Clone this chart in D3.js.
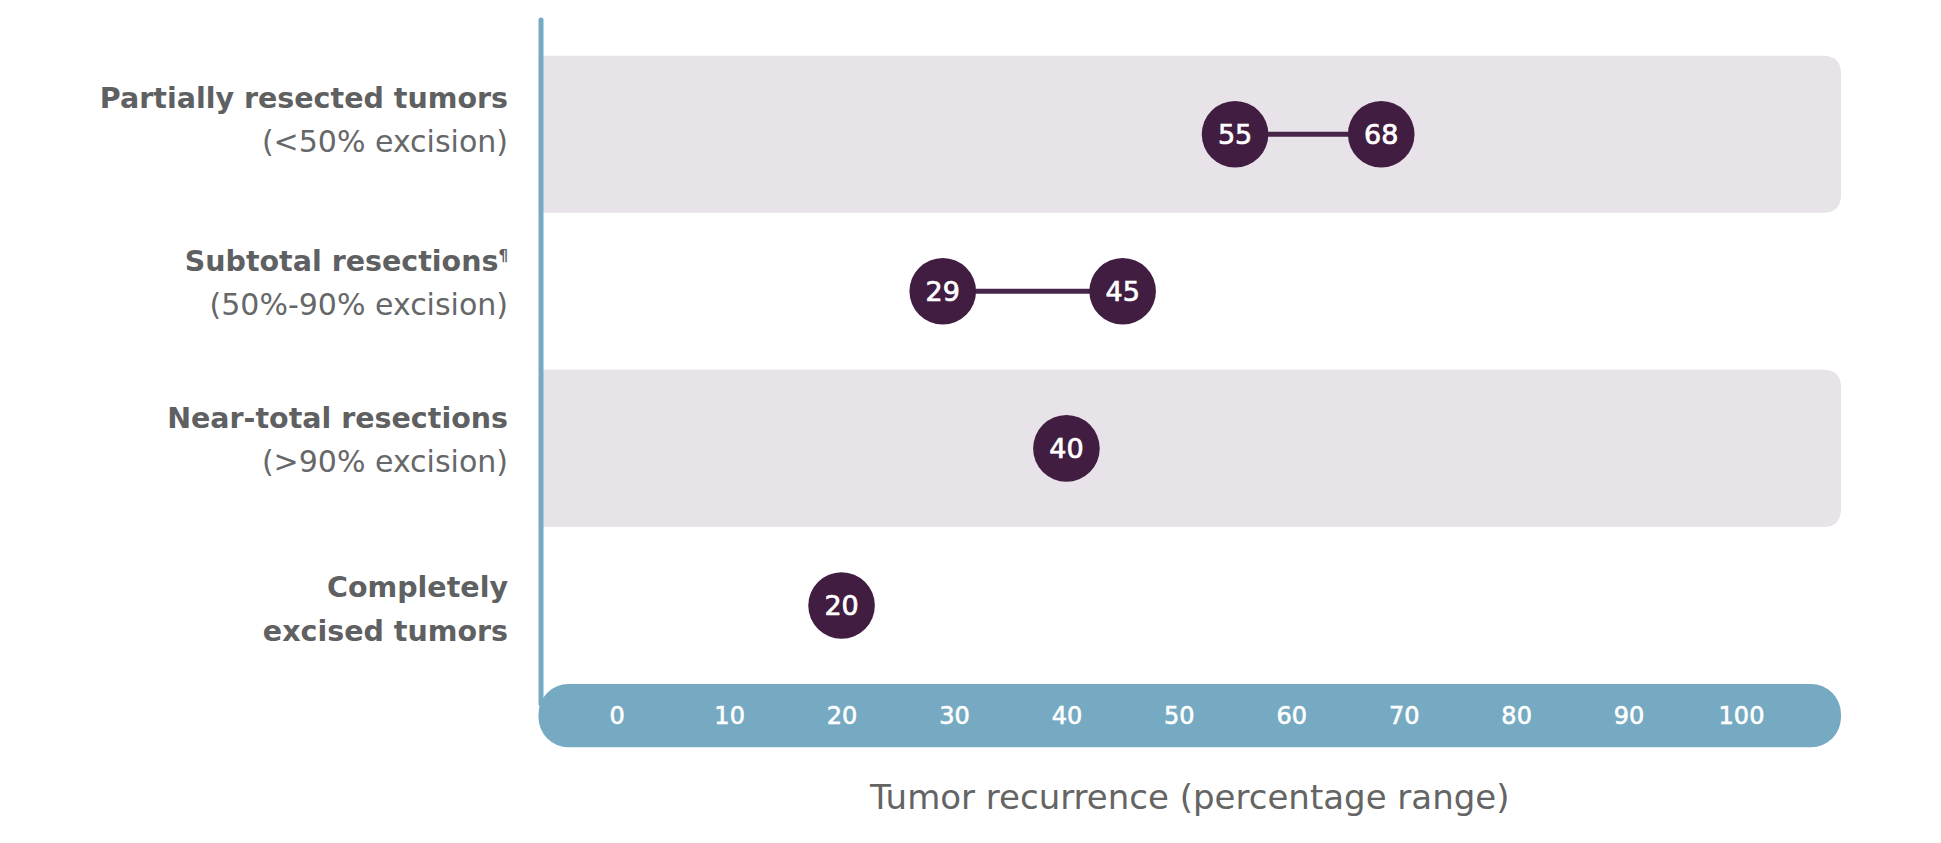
<!DOCTYPE html>
<html>
<head>
<meta charset="utf-8">
<script src="https://cdn.jsdelivr.net/npm/d3@7"></script>
<style>
  html, body { margin: 0; padding: 0; background: #ffffff; }
  svg { display: block; }
  text { font-family: "DejaVu Sans", "Liberation Sans", sans-serif; }
</style>
</head>
<body>
<svg id="chart" width="1941" height="843"></svg>
<script>
// ---- data ----
const categories = [
  "Partially resected tumors",
  "Subtotal resections",
  "Near-total resections",
  "Completely excised tumors"
];
const labelMain = [
  ["Partially resected tumors"],
  ["Subtotal resections"],
  ["Near-total resections"],
  ["Completely", "excised tumors"]
];
const labelSup = ["", "\u00B6", "", ""];
const labelSub = ["(<50% excision)", "(50%-90% excision)", "(>90% excision)", ""];
const lowValues = [55, 29, 40, 20];
const highValues = [68, 45, 40, 20];
const tickValues = [0, 10, 20, 30, 40, 50, 60, 70, 80, 90, 100];
const axisTitle = "Tumor recurrence (percentage range)";

// ---- layout ----
const plotLeft = 541, plotRight = 1841;
const bandTop = 55.7, bandBottom = 684;
const axisBarTop = 684, axisBarH = 63.3;
const colors = {
  band: "#e7e3e9",
  axis: "#76aac2",
  dot: "#411d42",
  line: "#47244a",
  labelBold: "#5f6062",
  labelReg: "#666769",
  title: "#646464"
};

const svg = d3.select("#chart");

const x = d3.scaleLinear().domain([0, 100]).range([616.7, 1741]);
const y = d3.scaleBand().domain(categories).range([bandTop, bandBottom]).padding(0);

const rows = categories.map((c, i) => ({
  cat: c, i, lo: lowValues[i], hi: highValues[i],
  main: labelMain[i], sup: labelSup[i], sub: labelSub[i]
}));

// alternating bands with rounded right corners
const rr = 18;
function bandPath(x0, x1, y0, h, r) {
  return `M${x0},${y0} H${x1 - r} Q${x1},${y0} ${x1},${y0 + r} V${y0 + h - r} Q${x1},${y0 + h} ${x1 - r},${y0 + h} H${x0} Z`;
}
svg.append("g").selectAll("path")
  .data(rows.filter(d => d.i % 2 === 0))
  .join("path")
  .attr("d", d => bandPath(plotLeft, plotRight, y(d.cat), y.bandwidth(), rr))
  .attr("fill", colors.band);

// axis bar
svg.append("rect")
  .attr("x", plotLeft - 2.5)
  .attr("y", axisBarTop)
  .attr("width", plotRight - plotLeft + 2.5)
  .attr("height", axisBarH)
  .attr("rx", 30).attr("ry", 30)
  .attr("fill", colors.axis);

// vertical axis line
svg.append("line")
  .attr("x1", plotLeft).attr("x2", plotLeft)
  .attr("y1", 20).attr("y2", axisBarTop + 20)
  .attr("stroke", colors.axis)
  .attr("stroke-width", 5)
  .attr("stroke-linecap", "round");

// tick labels via d3 axis
const axisG = svg.append("g")
  .attr("transform", `translate(0,${axisBarTop + axisBarH / 2})`)
  .call(d3.axisBottom(x).tickValues(tickValues).tickSize(0).tickPadding(0).tickFormat(d3.format("d")));
axisG.select(".domain").remove();
axisG.selectAll("text")
  .attr("y", 0)
  .attr("dy", "0.36em")
  .attr("fill", "#ffffff")
  .attr("font-size", 24)
  .attr("font-weight", "normal")
  .attr("font-family", "DejaVu Sans, sans-serif")
  .style("stroke", "#ffffff")
  .style("stroke-width", 0.6);

// axis title
svg.append("text")
  .attr("x", (plotLeft - 2.5 + plotRight) / 2)
  .attr("y", 809)
  .attr("text-anchor", "middle")
  .attr("font-size", 34)
  .attr("fill", colors.title)
  .text(axisTitle);

// range connector lines
svg.append("g").selectAll("line")
  .data(rows.filter(d => d.hi !== d.lo))
  .join("line")
  .attr("x1", d => x(d.lo)).attr("x2", d => x(d.hi))
  .attr("y1", d => y(d.cat) + y.bandwidth() / 2)
  .attr("y2", d => y(d.cat) + y.bandwidth() / 2)
  .attr("stroke", colors.line)
  .attr("stroke-width", 5);

// dots
const pts = [];
rows.forEach(d => {
  pts.push({cat: d.cat, v: d.lo});
  if (d.hi !== d.lo) pts.push({cat: d.cat, v: d.hi});
});
const dotG = svg.append("g").selectAll("g")
  .data(pts)
  .join("g")
  .attr("transform", d => `translate(${x(d.v)},${y(d.cat) + y.bandwidth() / 2})`);
dotG.append("circle").attr("r", 33.3).attr("fill", colors.dot);
dotG.append("text")
  .attr("text-anchor", "middle")
  .attr("dy", "0.36em")
  .attr("fill", "#ffffff")
  .attr("font-size", 27)
  .attr("font-weight", "normal")
  .style("stroke", "#ffffff")
  .style("stroke-width", 0.7)
  .text(d => d.v);

// category labels
const labelX = 508;
const lineGap = 44;
svg.append("g").selectAll("text")
  .data(rows)
  .join("text")
  .attr("text-anchor", "end")
  .each(function(d) {
    const t = d3.select(this);
    const lines = d.main.map(s => ({s, bold: true}));
    if (d.sub) lines.push({s: d.sub, bold: false});
    const n = lines.length;
    const cy = y(d.cat) + y.bandwidth() / 2 + (d.sub ? (d.i === 0 ? -15 : -9) : 3);
    lines.forEach((ln, k) => {
      const base = cy - (n - 1) * lineGap / 2 + k * lineGap + 10.5;
      t.append("tspan")
        .attr("x", labelX)
        .attr("y", base)
        .attr("font-size", ln.bold ? 28.5 : 30)
        .attr("font-weight", ln.bold ? "bold" : "normal")
        .attr("fill", ln.bold ? colors.labelBold : colors.labelReg)
        .text(ln.s);
      if (ln.bold && k === 0 && d.sup) {
        t.append("tspan")
          .attr("font-size", 15)
          .attr("font-weight", "bold")
          .attr("fill", colors.labelBold)
          .attr("dy", -10)
          .text(d.sup);
      }
    });
  });
</script>
</body>
</html>
